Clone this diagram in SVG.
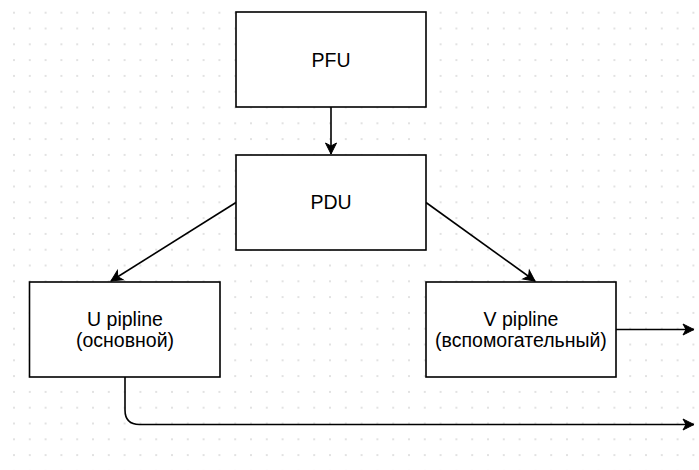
<svg xmlns="http://www.w3.org/2000/svg" width="699" height="470" viewBox="0 0 699 470">
  <defs>
    <!-- dotted drawing grid -->
    <pattern id="grid" patternUnits="userSpaceOnUse" x="6.1" y="4.8" width="15.8" height="15.8">
      <circle cx="7.9" cy="7.9" r="0.8" fill="#bdbdbd"/>
    </pattern>
    <marker id="arrow" markerUnits="userSpaceOnUse" markerWidth="14" markerHeight="14" viewBox="0 0 14 14" refX="12" refY="7" orient="auto">
      <path d="M1,1.5 L12,7 L1,12.5 L4,7 Z" fill="#000" stroke="#000" stroke-width="1"/>
    </marker>
    <style>
      .box { fill: #fff; stroke: #000; stroke-width: 1.6; }
      .lbl { font-family: "Liberation Sans", Arial, Helvetica, sans-serif; font-size: 19.5px; fill: #000; text-anchor: middle; }
      .edge { fill: none; stroke: #000; stroke-width: 1.6; marker-end: url(#arrow); }
    </style>
  </defs>

  <rect width="699" height="470" fill="#fff"/>
  <rect width="699" height="470" fill="url(#grid)"/>

  <g id="connectors">
    <path class="edge" d="M331,107 L331,154"/>
    <path class="edge" d="M236,202.5 L111,281"/>
    <path class="edge" d="M426,202.5 L535,281"/>
    <path class="edge" d="M616,329.5 L694,329.5"/>
    <path class="edge" d="M125,377 L125,410 Q125,424.5 139.5,424.5 L694,424.5"/>
  </g>

  <g id="pfu">
    <rect class="box" x="236" y="12" width="190" height="95"/>
    <text class="lbl" x="331" y="66.5">PFU</text>
  </g>

  <g id="pdu">
    <rect class="box" x="236" y="155" width="190" height="95"/>
    <text class="lbl" x="331" y="209">PDU</text>
  </g>

  <g id="u-pipeline">
    <rect class="box" x="29.5" y="282" width="190.5" height="95"/>
    <text class="lbl" x="125" y="326">U pipline</text>
    <text class="lbl" x="125" y="347">(основной)</text>
  </g>

  <g id="v-pipeline">
    <rect class="box" x="426" y="282" width="190" height="95"/>
    <text class="lbl" x="521" y="326">V pipline</text>
    <text class="lbl" x="521" y="347">(вспомогательный)</text>
  </g>
</svg>
